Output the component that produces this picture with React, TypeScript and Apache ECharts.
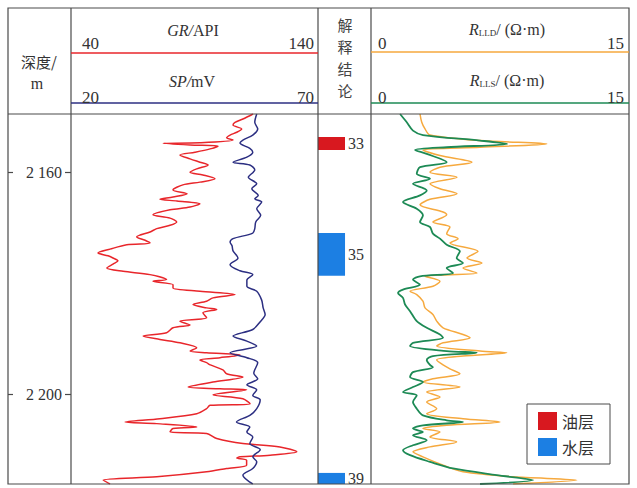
import React, { useEffect, useRef } from 'react';
import * as echarts from 'echarts';

const SERIF = '"Liberation Serif", "Noto Sans CJK SC", serif';
const CJK = '"Noto Sans CJK SC", "Liberation Serif", serif';

const DEPTH_MIN = 2149.4;
const DEPTH_MAX = 2216.2;
const depthTicks = [2160, 2200];

const grDepth = [2149.4, 2150.3, 2150.9, 2151.4, 2152.1, 2152.7, 2153.2, 2153.7, 2154.1, 2154.6, 2154.7, 2155.0, 2155.2, 2155.7, 2156.3, 2156.8, 2157.5, 2158.1, 2158.6, 2159.3, 2159.9, 2160.4, 2161.1, 2161.7, 2162.2, 2163.1, 2163.8, 2164.4, 2164.8, 2165.1, 2165.6, 2166.2, 2166.7, 2167.6, 2168.2, 2168.9, 2169.5, 2170.1, 2170.7, 2171.6, 2172.2, 2172.7, 2173.0, 2173.8, 2174.5, 2175.0, 2175.4, 2175.9, 2176.5, 2177.2, 2177.8, 2178.4, 2179.3, 2179.6, 2180.2, 2180.8, 2181.4, 2182.0, 2182.6, 2183.2, 2183.8, 2184.4, 2184.7, 2185.3, 2186.2, 2186.8, 2187.5, 2188.0, 2188.9, 2189.5, 2190.1, 2190.7, 2191.6, 2192.2, 2192.5, 2192.9, 2193.4, 2193.8, 2194.3, 2194.7, 2195.6, 2196.3, 2196.9, 2197.8, 2198.7, 2199.0, 2199.2, 2200.1, 2200.8, 2201.7, 2202.0, 2202.6, 2203.5, 2204.4, 2205.0, 2205.3, 2205.9, 2206.2, 2206.8, 2207.1, 2208.0, 2208.9, 2209.5, 2210.4, 2211.0, 2211.3, 2211.5, 2211.9, 2212.8, 2213.4, 2214.0, 2214.9, 2215.5, 2216.2];
const grValue = [113.7, 109.6, 106.4, 105.6, 109.1, 107.1, 104.4, 103.0, 105.6, 92.2, 77.3, 88.2, 99.5, 96.3, 90.2, 84.1, 88.2, 92.2, 95.5, 90.9, 88.2, 93.4, 98.3, 92.2, 85.3, 81.3, 87.0, 81.3, 76.0, 82.9, 92.2, 88.2, 80.1, 73.2, 80.1, 82.8, 80.1, 74.7, 72.0, 66.6, 70.0, 72.0, 62.6, 55.8, 50.9, 55.0, 57.0, 59.0, 57.0, 54.5, 61.1, 72.0, 78.7, 73.2, 81.3, 81.3, 92.2, 106.4, 97.5, 94.9, 89.4, 94.9, 99.0, 93.4, 94.9, 84.1, 88.2, 81.3, 78.7, 69.2, 76.0, 84.1, 90.9, 88.2, 94.9, 108.4, 100.3, 92.2, 94.9, 96.4, 101.5, 103.0, 109.6, 97.5, 87.4, 100.3, 111.1, 97.5, 109.6, 112.5, 96.3, 94.9, 90.9, 76.0, 61.9, 74.7, 90.9, 81.3, 80.1, 94.9, 99.0, 109.6, 124.6, 131.4, 120.6, 108.4, 107.1, 111.1, 111.1, 103.0, 94.9, 74.7, 53.0, 55.8];

const spDepth = [2149.4, 2150.9, 2152.1, 2153.2, 2154.1, 2154.65, 2155.6, 2156.3, 2157.2, 2158.1, 2158.6, 2159.5, 2159.9, 2160.8, 2162.0, 2162.9, 2164.1, 2164.7, 2165.3, 2166.5, 2167.7, 2168.9, 2170.1, 2170.9, 2171.9, 2172.5, 2173.2, 2174.1, 2175.4, 2176.6, 2177.7, 2178.4, 2179.4, 2180.5, 2181.4, 2183.0, 2184.4, 2185.6, 2186.9, 2188.3, 2189.5, 2190.4, 2191.3, 2192.5, 2193.4, 2194.3, 2196.2, 2197.2, 2198.3, 2199.2, 2200.2, 2201.0, 2202.6, 2203.8, 2205.0, 2205.9, 2206.8, 2207.7, 2208.9, 2210.0, 2211.3, 2212.2, 2213.4, 2214.6, 2216.2];
const spValue = [57.6, 57.2, 57.8, 56.8, 54.8, 54.2, 56.2, 56.8, 55.6, 52.8, 56.2, 57.2, 56.9, 55.9, 57.6, 56.6, 57.9, 57.2, 58.6, 57.6, 58.4, 57.4, 57.2, 56.8, 52.8, 52.2, 52.6, 52.8, 53.8, 52.2, 54.2, 56.8, 55.6, 55.6, 57.6, 58.6, 58.9, 59.3, 58.3, 56.8, 52.8, 55.6, 57.6, 52.2, 55.6, 57.8, 57.0, 57.8, 55.6, 57.6, 56.8, 58.3, 57.6, 56.2, 53.5, 56.2, 55.6, 56.8, 56.2, 58.3, 56.8, 57.6, 56.8, 54.8, 56.8];

const lldDepth = [2149.4, 2150.9, 2152.1, 2153.2, 2154.2, 2154.8, 2155.4, 2155.9, 2156.9, 2158.1, 2159.0, 2159.9, 2160.8, 2162.0, 2162.9, 2163.8, 2164.8, 2165.8, 2167.1, 2167.6, 2168.9, 2169.8, 2171.0, 2171.9, 2172.7, 2174.2, 2175.4, 2176.3, 2177.2, 2178.1, 2178.7, 2179.6, 2180.5, 2181.4, 2182.0, 2183.2, 2184.4, 2185.6, 2186.8, 2188.0, 2189.2, 2189.8, 2190.7, 2191.3, 2192.2, 2192.5, 2193.1, 2193.8, 2194.7, 2195.4, 2196.3, 2197.2, 2197.8, 2198.7, 2199.6, 2200.5, 2201.4, 2202.6, 2203.5, 2204.4, 2205.0, 2205.6, 2206.2, 2206.8, 2207.7, 2208.6, 2209.5, 2210.4, 2211.3, 2212.8, 2214.0, 2214.9, 2215.5, 2216.2];
const lldValue = [2.85, 2.95, 3.14, 3.43, 6.34, 10.22, 6.34, 3.02, 4.01, 5.87, 4.01, 3.43, 5.00, 3.43, 4.01, 5.00, 3.43, 2.85, 4.19, 4.40, 3.60, 4.59, 4.40, 5.06, 4.59, 6.22, 5.58, 6.45, 5.35, 6.16, 3.14, 4.01, 3.60, 2.27, 2.66, 3.02, 3.14, 3.60, 3.82, 4.19, 5.35, 5.76, 4.19, 3.82, 6.34, 7.89, 5.35, 3.82, 4.19, 4.59, 5.17, 3.60, 3.02, 5.17, 3.24, 4.01, 3.24, 3.82, 3.24, 5.35, 7.50, 4.40, 3.02, 4.01, 3.43, 4.98, 3.43, 2.44, 3.02, 4.19, 5.35, 8.26, 11.96, 8.26];

const llsDepth = [2149.4, 2150.9, 2152.4, 2153.2, 2154.2, 2154.8, 2155.4, 2155.9, 2156.6, 2158.1, 2159.0, 2160.2, 2161.1, 2162.0, 2163.2, 2164.1, 2165.3, 2166.5, 2167.7, 2168.9, 2169.8, 2171.0, 2171.9, 2173.0, 2174.2, 2175.4, 2176.3, 2177.2, 2178.1, 2178.7, 2179.3, 2180.2, 2181.1, 2181.7, 2182.6, 2183.8, 2185.0, 2186.8, 2188.0, 2189.2, 2189.8, 2190.7, 2191.3, 2192.2, 2192.5, 2193.1, 2193.8, 2194.7, 2195.1, 2196.0, 2196.9, 2197.8, 2198.7, 2199.6, 2200.2, 2201.4, 2202.6, 2203.8, 2204.7, 2205.0, 2205.6, 2206.2, 2206.8, 2207.4, 2208.3, 2209.2, 2210.1, 2211.0, 2212.2, 2213.4, 2214.6, 2215.5, 2216.2];
const llsValue = [1.69, 2.08, 2.44, 3.02, 6.34, 7.91, 4.40, 2.56, 3.24, 4.40, 2.85, 2.66, 3.43, 2.44, 3.24, 2.85, 1.86, 2.66, 3.02, 2.85, 3.43, 3.60, 4.01, 4.40, 5.17, 4.98, 5.35, 4.40, 4.77, 2.85, 2.44, 2.85, 1.86, 1.57, 1.86, 1.98, 2.27, 2.66, 3.24, 4.01, 4.19, 2.44, 2.27, 4.40, 6.15, 3.60, 3.24, 3.43, 3.60, 2.44, 2.27, 3.02, 2.44, 1.86, 2.66, 2.44, 2.66, 3.02, 4.40, 5.35, 3.02, 2.44, 3.02, 2.44, 3.24, 2.44, 1.86, 2.27, 3.43, 4.77, 7.31, 9.42, 6.34];

const layerNo = [33, 35, 39];
const layerTop = [2153.55, 2170.9, 2214.2];
const layerBottom = [2155.9, 2178.6, 2216.2];
const layerKind = ['油层', '水层', '水层'];

const headerChars = ['解', '释', '结', '论'];

const RED = '#e8262b';
const NAVY = '#2c2f82';
const ORANGE = '#f6a93e';
const GREEN = '#1d8a55';
const OIL = '#d8181f';
const WATER = '#1c7fe3';
const FRAME = '#4a4a4a';

const zip = (a: number[], b: number[]) => a.map((d, i) => [b[i], d]);

function layerSeries(kind: string, color: string) {
  const data = layerNo
    .map((n, i) => ({ n, i }))
    .filter((o) => layerKind[o.i] === kind)
    .map((o) => [0, layerTop[o.i], layerBottom[o.i], o.n]);
  return {
    name: kind,
    type: 'custom',
    xAxisIndex: 2,
    yAxisIndex: 1,
    itemStyle: { color },
    clip: false,
    data,
    renderItem: (_p: any, api: any) => {
      const p0 = api.coord([0, api.value(1)]);
      const p1 = api.coord([0.51, api.value(2)]);
      return {
        type: 'group',
        children: [
          { type: 'rect', shape: { x: p0[0], y: p0[1], width: p1[0] - p0[0], height: p1[1] - p0[1] }, style: { fill: color } },
          {
            type: 'text',
            x: p1[0] + 3,
            y: (p0[1] + p1[1]) / 2,
            style: { text: String(api.value(3)), fill: '#333', fontSize: 16, lineHeight: 16, fontFamily: SERIF, align: 'left', verticalAlign: 'middle' },
          },
        ],
      };
    },
  };
}

function hline(x1: number, x2: number, y: number, color: string, w = 1.3) {
  return { type: 'line', z: 10, shape: { x1, y1: y, x2, y2: y }, style: { stroke: color, lineWidth: w } };
}
function vline(x: number, y1: number, y2: number) {
  return { type: 'line', z: 10, shape: { x1: x, y1, x2: x, y2 }, style: { stroke: FRAME, lineWidth: 1.2 } };
}
function txt(x: number, y: number, text: string, extra: any = {}) {
  const fs = extra.fontSize || 16;
  return {
    type: 'text',
    z: 10,
    x,
    y,
    style: { text, fill: '#333', fontSize: fs, lineHeight: fs, fontFamily: SERIF, align: 'center', verticalAlign: 'middle', ...extra },
  };
}

const richTitle = {
  i: { fontStyle: 'italic', fontSize: 16, lineHeight: 16, fontFamily: SERIF, fill: '#333' },
  n: { fontSize: 16, lineHeight: 16, fontFamily: SERIF, fill: '#333' },
  s: { fontSize: 9, fontFamily: SERIF, fill: '#333', verticalAlign: 'bottom', lineHeight: 10 },
};

export default function App() {
  const ref = useRef<HTMLDivElement>(null);
  useEffect(() => {
    if (!ref.current) return;
    const chart = echarts.init(ref.current, undefined, { renderer: 'svg' });
    const yBase = { type: 'value', min: DEPTH_MIN, max: DEPTH_MAX, inverse: true, splitLine: { show: false } };
    const option: any = {
      animation: false,
      backgroundColor: '#fff',
      grid: [
        { left: 71, top: 114, width: 247, height: 370 },
        { left: 318, top: 114, width: 53, height: 370 },
        { left: 371, top: 114, width: 258, height: 370 },
      ],
      xAxis: [
        { type: 'value', gridIndex: 0, min: 40, max: 140, show: false },
        { type: 'value', gridIndex: 0, min: 20, max: 70, show: false },
        { type: 'value', gridIndex: 1, min: 0, max: 1, show: false },
        { type: 'value', gridIndex: 2, min: 0, max: 15, show: false },
      ],
      yAxis: [
        {
          ...yBase,
          gridIndex: 0,
          position: 'left',
          axisLine: { show: false },
          axisTick: { show: true, customValues: depthTicks, length: 6, lineStyle: { color: FRAME, width: 1.2 } },
          axisLabel: {
            show: true,
            customValues: depthTicks,
            margin: 9,
            fontSize: 16,
            fontFamily: SERIF,
            color: '#333',
            formatter: (v: number) => String(v).replace(/(\d)(\d{3})$/, '$1 $2'),
          },
        },
        { ...yBase, gridIndex: 1, show: false },
        { ...yBase, gridIndex: 2, show: false },
        {
          ...yBase,
          gridIndex: 0,
          position: 'left',
          offset: 63,
          axisLine: { show: false },
          axisLabel: { show: false },
          axisTick: { show: true, inside: true, customValues: depthTicks, length: 5, lineStyle: { color: FRAME, width: 1.2 } },
        },
      ],
      legend: {
        left: 527,
        top: 404,
        orient: 'vertical',
        data: ['油层', '水层'],
        icon: 'rect',
        itemWidth: 19,
        itemHeight: 18,
        itemGap: 8,
        padding: [8, 16, 8, 11],
        borderColor: FRAME,
        borderWidth: 1,
        backgroundColor: '#fff',
        textStyle: { fontSize: 16, fontFamily: CJK, color: '#333' },
      },
      series: [
        { name: 'GR', type: 'line', xAxisIndex: 0, yAxisIndex: 0, data: zip(grDepth, grValue), showSymbol: false, smooth: 0.3, lineStyle: { color: RED, width: 1.5 }, itemStyle: { color: RED } },
        { name: 'SP', type: 'line', xAxisIndex: 1, yAxisIndex: 0, data: zip(spDepth, spValue), showSymbol: false, smooth: 0.3, lineStyle: { color: NAVY, width: 1.5 }, itemStyle: { color: NAVY } },
        { name: 'RLLD', type: 'line', xAxisIndex: 3, yAxisIndex: 2, data: zip(lldDepth, lldValue), showSymbol: false, smooth: 0.3, lineStyle: { color: ORANGE, width: 1.5 }, itemStyle: { color: ORANGE } },
        { name: 'RLLS', type: 'line', xAxisIndex: 3, yAxisIndex: 2, data: zip(llsDepth, llsValue), showSymbol: false, smooth: 0.3, lineStyle: { color: GREEN, width: 1.8 }, itemStyle: { color: GREEN } },
        layerSeries('油层', OIL),
        layerSeries('水层', WATER),
      ],
      graphic: [
        { type: 'rect', z: 10, shape: { x: 8, y: 8, width: 621, height: 476 }, style: { fill: 'none', stroke: FRAME, lineWidth: 1.2 } },
        hline(8, 629, 114, FRAME, 1.2),
        vline(71, 8, 484),
        vline(318, 8, 484),
        vline(371, 8, 484),
        hline(71, 318, 53, RED, 1.5),
        hline(71, 318, 103, NAVY, 1.5),
        hline(371, 629, 52, ORANGE, 1.5),
        hline(371, 629, 103, GREEN, 1.5),
        txt(39, 61, '深度/', { fontSize: 15, fontFamily: CJK }),
        txt(37, 83, 'm', { fontSize: 16 }),
        txt(193, 30, '{i|GR/}{n|API}', { rich: richTitle }),
        txt(82, 43, '40', { align: 'left', fontSize: 17 }),
        txt(314, 43, '140', { align: 'right', fontSize: 17 }),
        txt(192, 81, '{i|SP/}{n|mV}', { rich: richTitle }),
        txt(82, 97, '20', { align: 'left', fontSize: 17 }),
        txt(314, 97, '70', { align: 'right', fontSize: 17 }),
        ...headerChars.map((c, i) => txt(345, 24 + i * 22, c, { fontSize: 15, fontFamily: CJK, fill: '#444' })),
        txt(507, 29, '{i|R}{s|LLD}{n|/ (Ω·m)}', { rich: richTitle }),
        txt(378, 43, '0', { align: 'left', fontSize: 17 }),
        txt(624, 43, '15', { align: 'right', fontSize: 17 }),
        txt(507, 80, '{i|R}{s|LLS}{n|/ (Ω·m)}', { rich: richTitle }),
        txt(378, 97, '0', { align: 'left', fontSize: 17 }),
        txt(624, 97, '15', { align: 'right', fontSize: 17 }),
      ],
    };
    chart.setOption(option);
    return () => chart.dispose();
  }, []);
  return <div ref={ref} style={{ position: 'absolute', left: 0, top: 0, width: 637, height: 488, background: '#fff' }} />;
}
